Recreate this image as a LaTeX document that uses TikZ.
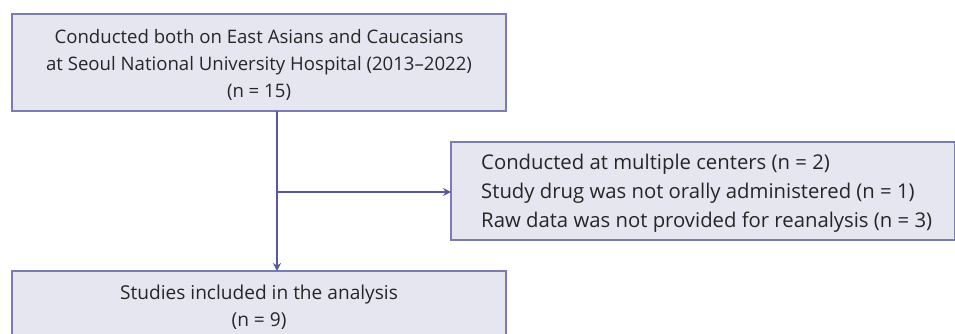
\documentclass[tikz,border=0pt]{standalone}
\usepackage{fontspec}
\setmainfont{Open Sans}
\usetikzlibrary{arrows.meta}
\definecolor{boxfill}{HTML}{E6E6F0}
\definecolor{boxline}{HTML}{7C7CB4}
\definecolor{arrline}{HTML}{5858A0}
\definecolor{txt}{HTML}{262626}
\tikzset{
  flowbox/.style={draw=boxline, fill=boxfill, line width=1.1pt},
  flowtext/.style={text=txt, inner sep=0pt},
  conn/.style={draw=arrline, line width=1.1pt, -{Stealth[length=8pt,width=8pt]}},
}
\begin{document}
\begin{tikzpicture}[x=1pt,y=-1pt]
\useasboundingbox (0,0) rectangle (955,334);
\draw[flowbox] (12,14) rectangle (506,111);
\node[flowtext, font=\fontsize{18.6}{27}\selectfont, align=center] (top) at (259,65) {Conducted both on East Asians and Caucasians\\at Seoul National University Hospital (2013–2022)\\(n = 15)};
\coordinate (topb) at (277,111);
\draw[flowbox] (451,142) rectangle (955,240);
\node[flowtext, font=\fontsize{20.3}{29}\selectfont, align=left, anchor=west] (excl) at (481,193.5) {Conducted at multiple centers (n = 2)\\Study drug was not orally administered (n = 1)\\Raw data was not provided for reanalysis (n = 3)};
\coordinate (exclL) at (451,192);
\draw[flowbox] (12,340) -- (12,271) -- (506,271) -- (506,340);
\node[flowtext, font=\fontsize{19.1}{27}\selectfont, align=center] (bot) at (259,307) {Studies included in the analysis\\(n = 9)};
\coordinate (botT) at (277,271);
\coordinate (branch) at (277,192);
\draw[conn] (topb) -- (botT);
\draw[conn] (branch) -- (exclL);
\end{tikzpicture}
\end{document}
